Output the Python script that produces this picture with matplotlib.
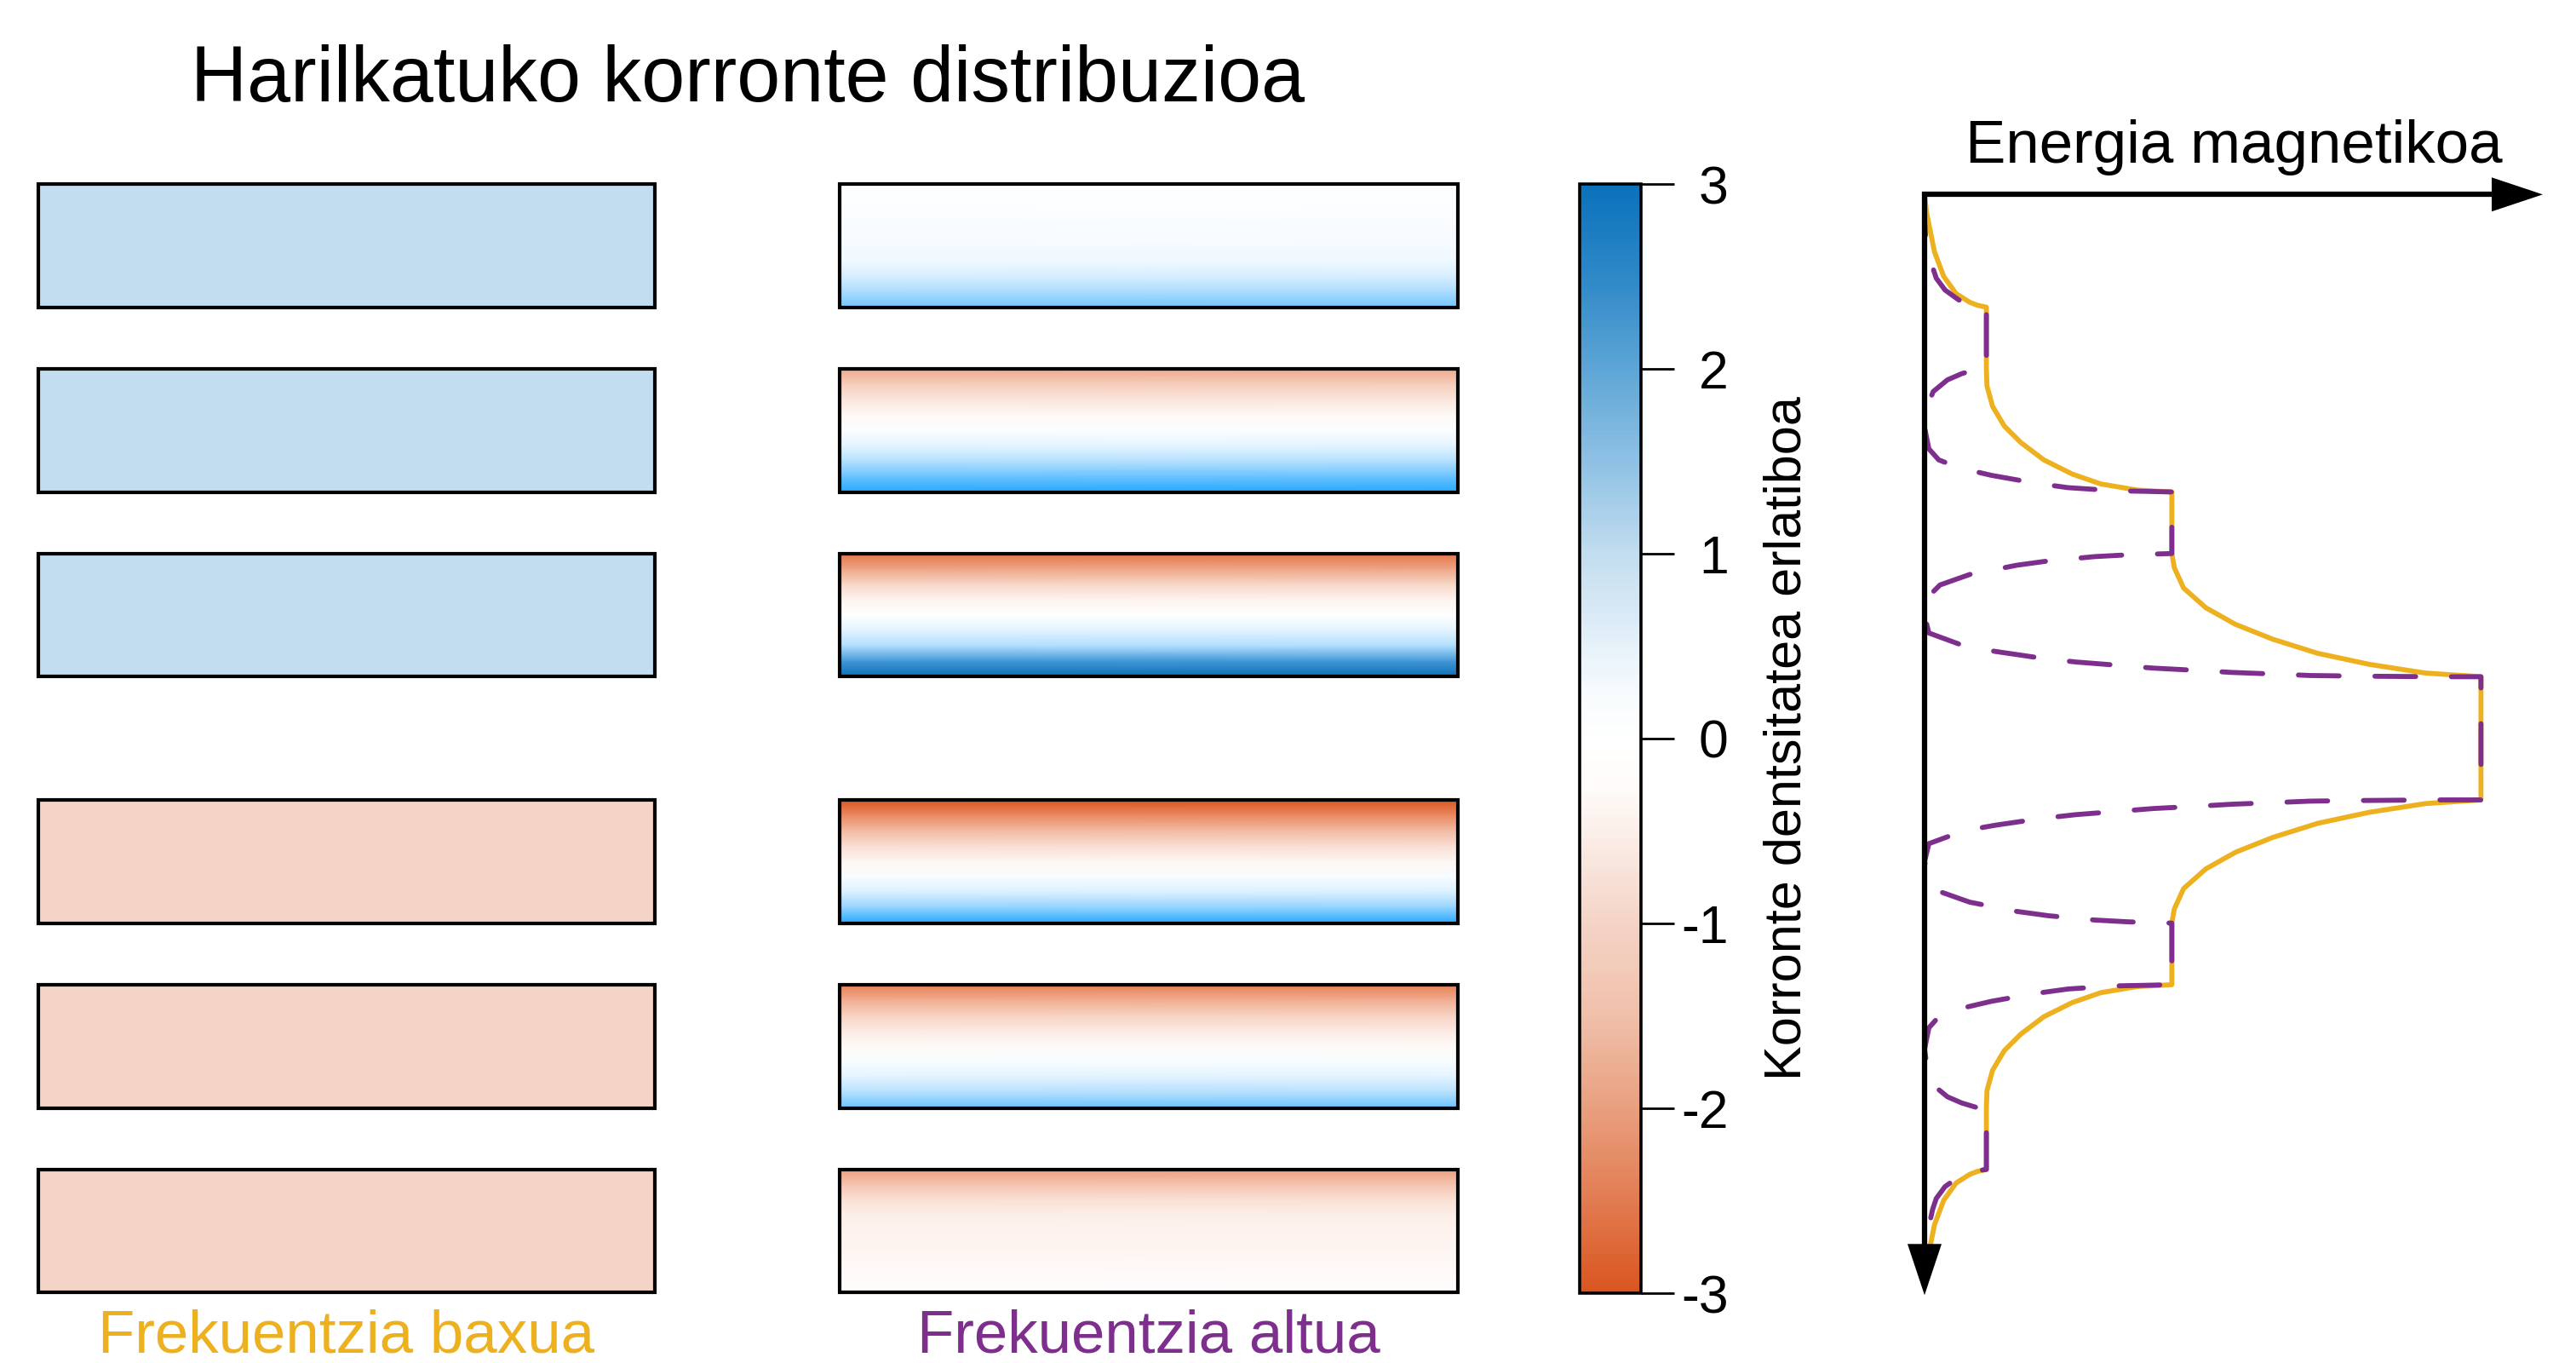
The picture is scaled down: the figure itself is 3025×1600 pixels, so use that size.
import numpy as np
import matplotlib
matplotlib.use('Agg')
import matplotlib.pyplot as plt
from matplotlib.colors import LinearSegmentedColormap, Normalize
from matplotlib.patches import Rectangle
import matplotlib.cm as cm

plt.rcParams['font.family'] = ['Liberation Sans', 'DejaVu Sans']

W, H = 3025, 1600

# relative current density, low frequency: uniform in each turn
low_freq = [1, 1, 1, -1, -1, -1]
# high frequency: sampled from top to bottom of each turn
high_freq = [
    [0.0, 0.03, 0.06, 0.1, 0.15, 0.25, 0.6, 1.05, 1.45],
    [-1.55, -1.05, -0.55, -0.15, 0.05, 0.4, 0.95, 1.5, 2.0],
    [-2.35, -1.6, -0.85, -0.25, 0.0, 0.45, 1.0, 2.5, 3.0],
    [-2.95, -2.0, -1.3, -0.7, -0.2, 0.1, 0.55, 1.2, 2.0],
    [-2.2, -1.5, -0.95, -0.45, -0.1, 0.1, 0.45, 0.95, 1.5],
    [-1.7, -1.15, -0.65, -0.35, -0.27, -0.22, -0.16, -0.09, -0.03],
]
cb_ticks = [-3, -2, -1, 0, 1, 2, 3]
cb_ticklabels = ['-3', '-2', '-1', '0', '1', '2', '3']

# magnetic energy along the winding (upper half, lower half is its mirror)
low_z = [0.17, 0.45, 0.75, 1.1, 1.5, 1.78, 1.92, 1.97, 2.0,
         3.0, 3.28, 3.61, 3.93, 4.2, 4.48, 4.71, 4.87, 4.97, 5.0,
         6.0, 6.23, 6.56, 6.88, 7.15, 7.39, 7.62, 7.8, 7.94, 8.0, 9.0]
low_E = [0.0, 0.03, 0.09, 0.16, 0.31, 0.51, 0.73, 0.86, 1.0,
         1.0, 1.01, 1.1, 1.29, 1.56, 1.93, 2.39, 2.85, 3.44, 4.0,
         4.0, 4.04, 4.19, 4.55, 5.03, 5.63, 6.36, 7.2, 8.1, 9.0, 9.0]
high_z = [0.17, 0.6, 0.9, 1.12, 1.35, 1.53, 1.72, 1.88, 1.97, 2.0,
          3.0, 3.01, 3.08, 3.18, 3.37, 3.6, 3.95, 4.3, 4.48, 4.61, 4.73, 4.86, 4.93, 4.98, 4.99, 5.0,
          6.0, 6.02, 6.05, 6.12, 6.19, 6.34, 6.51, 6.69, 7.0, 7.29, 7.5, 7.59, 7.7, 7.76, 7.82,
          7.86, 7.9, 7.93, 7.96, 7.98, 7.99, 8.0, 8.0, 9.0]
high_E = [0.0, 0.0, 0.02, 0.08, 0.13, 0.19, 0.33, 0.55, 0.78, 1.0,
          1.0, 0.83, 0.6, 0.37, 0.14, 0.05, 0.0, 0.07, 0.23, 0.57, 1.08, 1.81, 2.32, 3.08, 3.58, 4.0,
          4.0, 3.3, 2.75, 2.0, 1.49, 0.73, 0.25, 0.07, 0.0, 0.07, 0.64, 1.15, 1.9, 2.44, 3.2,
          3.7, 4.46, 4.97, 5.75, 6.23, 7.0, 8.3, 9.0, 9.0]

turn_top = [0, 3, 6, 10, 13, 16]
turn_h = 2

yellow = '#EDB120'
purple = '#7E2F8E'

cb_nodes = [(-3, '#d9551f'), (-2.5, '#e27c52'), (-2, '#e9a080'), (-1.5, '#f0c0aa'),
            (-1, '#f4d4c6'), (-0.5, '#fbefe9'), (-0.25, '#fffcfa'), (0, '#ffffff'),
            (0.25, '#f7fbfd'), (0.5, '#e6f1f9'), (1, '#c2ddef'), (1.5, '#8fc1e4'),
            (2, '#5ea6d6'), (2.5, '#2f88c8'), (3, '#0a72bb')]
hf_nodes = [(-3, '#d8521c'), (-2, '#e98a62'), (-1, '#f6d0bf'), (0, '#ffffff'),
            (0.5, '#dff2ff'), (1, '#b0defe'), (1.5, '#6cc4ff'), (2, '#26a8ff'),
            (2.5, '#4297d6'), (3, '#0a6db5')]
cmap_cb = LinearSegmentedColormap.from_list('cb', [((v + 3) / 6, c) for v, c in cb_nodes])
cmap_hf = LinearSegmentedColormap.from_list('hf', [((v + 3) / 6, c) for v, c in hf_nodes])
norm = Normalize(-3, 3)


def px_axes(fig, x0, y0, x1, y1):
    return fig.add_axes([x0 / W, 1 - y1 / H, (x1 - x0) / W, (y1 - y0) / H])


fig = plt.figure(figsize=(W / 100, H / 100), dpi=100)
fig.patch.set_facecolor('white')

# vertical mapping shared by the panels: z from -1 to 19
ztop, zbot = 216 - 72.3, 216 + 19 * 72.3

# low frequency column
ax1 = px_axes(fig, 45, ztop, 769, zbot)
ax1.set_xlim(0, 1)
ax1.set_ylim(19, -1)
ax1.axis('off')
for i, top in enumerate(turn_top):
    ax1.add_patch(Rectangle((0, top), 1, turn_h, facecolor=cmap_cb(norm(low_freq[i])),
                            edgecolor='k', lw=3.0, clip_on=False))

# high frequency column
ax2 = px_axes(fig, 986, ztop, 1712, zbot)
ax2.set_xlim(0, 1)
ax2.set_ylim(19, -1)
ax2.axis('off')
for i, top in enumerate(turn_top):
    prof = np.array(high_freq[i])
    zs = np.linspace(top, top + turn_h, len(prof))
    ax2.pcolormesh([0, 1], zs, np.column_stack([prof, prof]), shading='gouraud',
                   cmap=cmap_hf, norm=norm)
    ax2.add_patch(Rectangle((0, top), 1, turn_h, fill=False, edgecolor='k', lw=3.0,
                            clip_on=False, zorder=3))

# colorbar
cax = px_axes(fig, 1855, 216, 1927, 1518)
cb = fig.colorbar(cm.ScalarMappable(norm=norm, cmap=cmap_cb), cax=cax)
cb.set_ticks(cb_ticks)
cb.set_ticklabels(cb_ticklabels)
cb.outline.set_linewidth(2.6)
cax.tick_params(length=28, width=2.0, labelsize=45, pad=46, color='k')
for lab in cax.get_yticklabels():
    lab.set_horizontalalignment('right')
fig.text(2099 / W, 1 - 867 / H, 'Korronte dentsitatea erlatiboa', rotation=90,
         ha='center', va='center', fontsize=44)

# energy plot
ax3 = px_axes(fig, 2187.4, ztop, 3022.3, zbot)
ax3.set_xlim(-1, 10.5)
ax3.set_ylim(19, -1)
ax3.axis('off')

low_zf = np.concatenate([low_z, 18 - np.array(low_z[::-1][1:])])
low_Ef = np.concatenate([low_E, low_E[::-1][1:]])
high_zf = np.concatenate([high_z, 18 - np.array(high_z[::-1][1:])])
high_Ef = np.concatenate([high_E, high_E[::-1][1:]])

ax3.plot(low_Ef, low_zf, color=yellow, lw=4.2, zorder=3, clip_on=False)
ax3.plot(high_Ef, high_zf, color=purple, lw=4.2, zorder=4, clip_on=False,
         linestyle=(0, (8.2, 7.2)), dash_capstyle='round')

z0 = 0.17
ax3.plot([9.3, 0, 0], [z0, z0, 17.5], color='k', lw=4.5, solid_joinstyle='miter',
         solid_capstyle='butt', zorder=5, clip_on=False)
head = dict(arrowstyle='-|>,head_length=0.6,head_width=0.2', mutation_scale=72,
            color='k', lw=0, shrinkA=0, shrinkB=0)
ax3.annotate('', xy=(10.0, z0), xytext=(9.0, z0), arrowprops=head, zorder=6,
             annotation_clip=False)
ax3.annotate('', xy=(0, 18.04), xytext=(0, 17.0), arrowprops=head, zorder=6,
             annotation_clip=False)

fig.text(2623 / W, 1 - 191 / H, 'Energia magnetikoa', ha='center', va='baseline', fontsize=51)

# titles
fig.text(878 / W, 1 - 119 / H, 'Harilkatuko korronte distribuzioa', ha='center',
         va='baseline', fontsize=66)
fig.text(407 / W, 1 - 1588 / H, 'Frekuentzia baxua', ha='center', va='baseline',
         fontsize=51, color=yellow)
fig.text(1349 / W, 1 - 1588 / H, 'Frekuentzia altua', ha='center', va='baseline',
         fontsize=51, color=purple)

fig.savefig('out.png', dpi=100, facecolor='white')
